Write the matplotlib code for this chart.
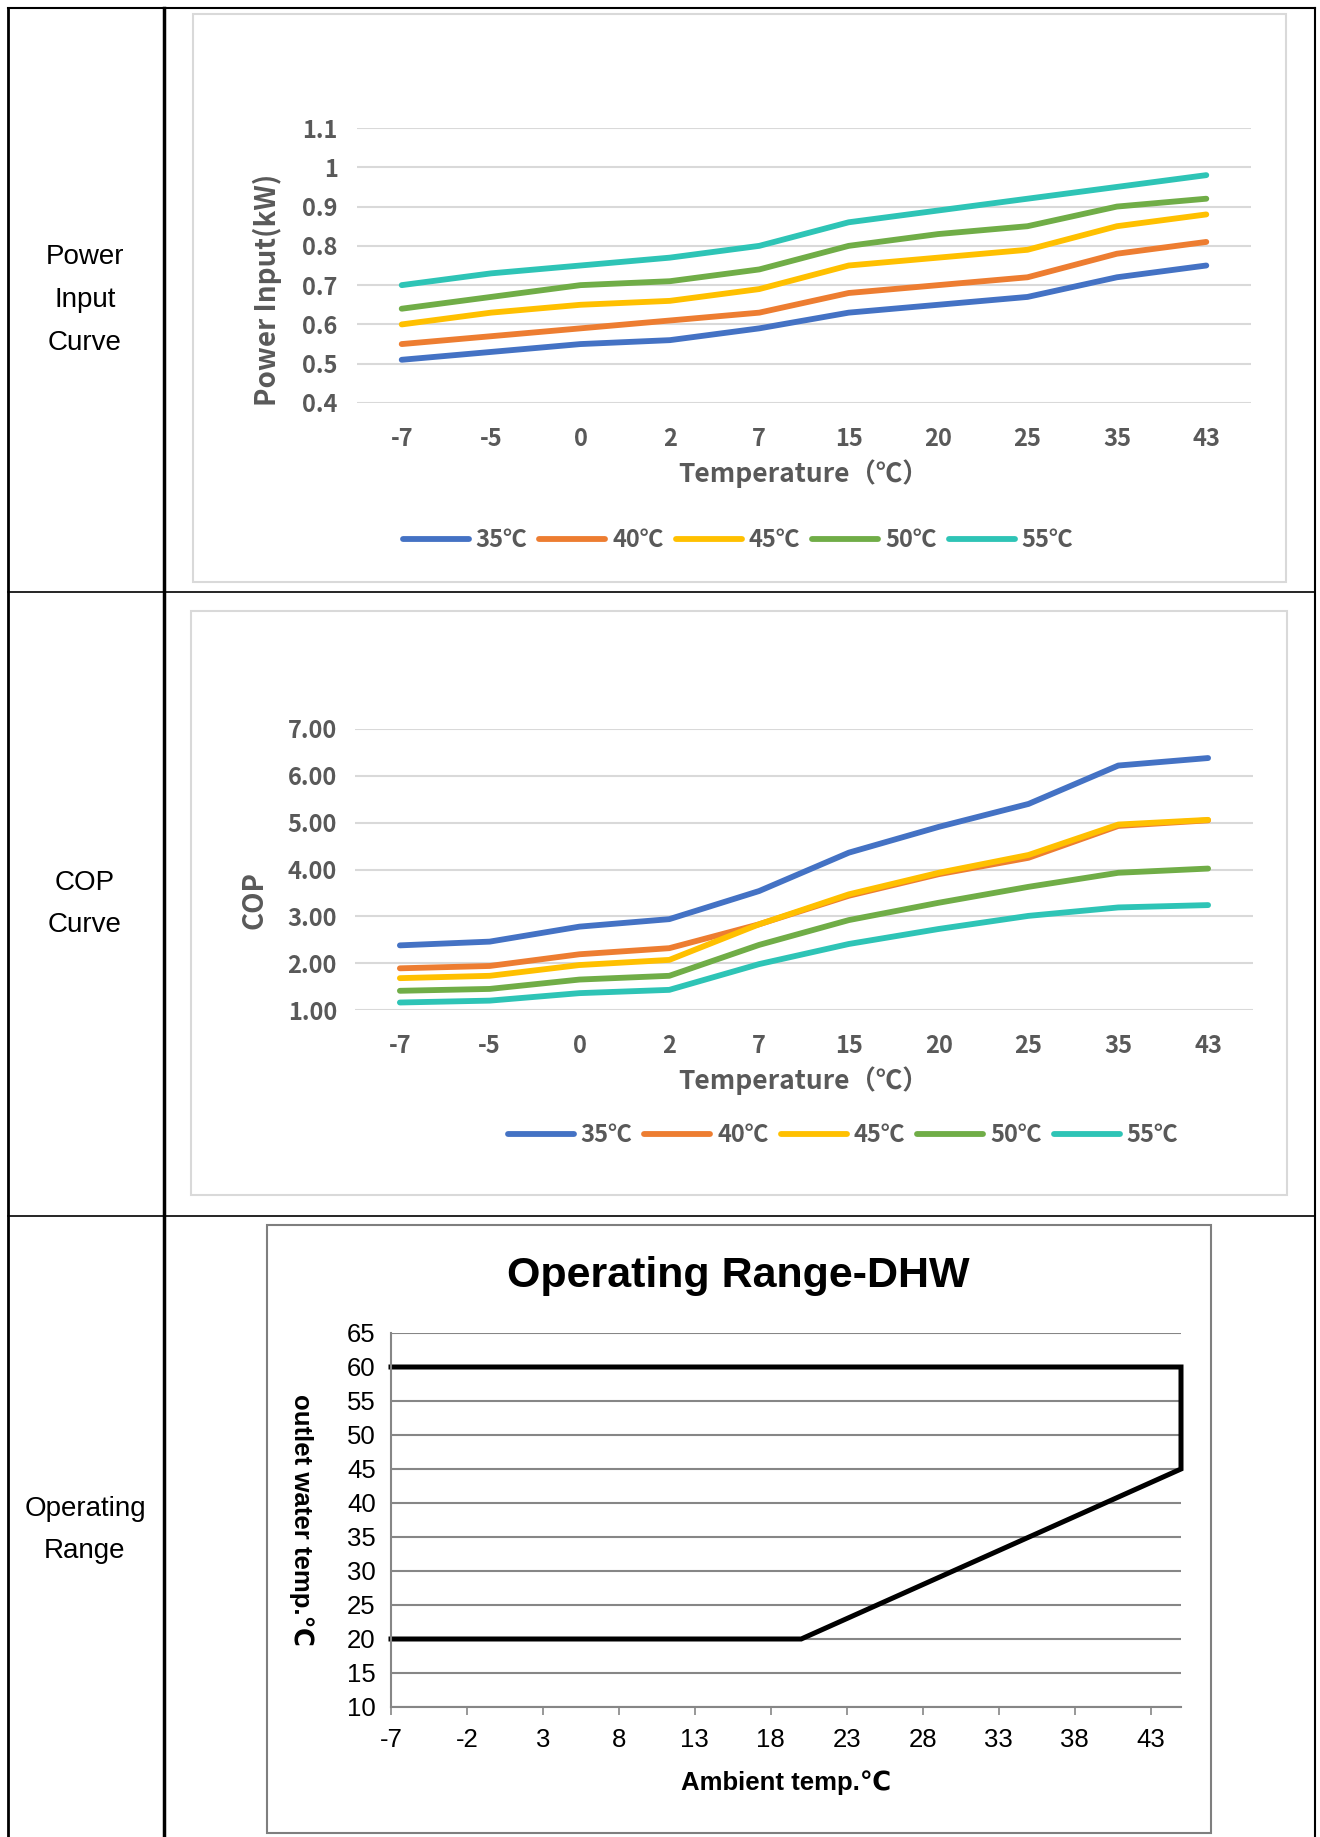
import numpy as np
import matplotlib.pyplot as plt
from matplotlib.patches import Rectangle

plt.rcParams['axes.unicode_minus'] = False

W, H = 1320, 1837

# ---- data ----
temps = ['-7', '-5', '0', '2', '7', '15', '20', '25', '35', '43']
series = ['35℃', '40℃', '45℃', '50℃', '55℃']
colors = ['#4472C4', '#ED7D31', '#FFC000', '#70AD47', '#2EC4B6']

power_35 = [0.51, 0.53, 0.55, 0.56, 0.59, 0.63, 0.65, 0.67, 0.72, 0.75]
power_40 = [0.55, 0.57, 0.59, 0.61, 0.63, 0.68, 0.70, 0.72, 0.78, 0.81]
power_45 = [0.60, 0.63, 0.65, 0.66, 0.69, 0.75, 0.77, 0.79, 0.85, 0.88]
power_50 = [0.64, 0.67, 0.70, 0.71, 0.74, 0.80, 0.83, 0.85, 0.90, 0.92]
power_55 = [0.70, 0.73, 0.75, 0.77, 0.80, 0.86, 0.89, 0.92, 0.95, 0.98]
power_ticks = [0.4, 0.5, 0.6, 0.7, 0.8, 0.9, 1.0, 1.1]

cop_35 = [2.38, 2.46, 2.78, 2.94, 3.54, 4.36, 4.91, 5.40, 6.22, 6.38]
cop_40 = [1.89, 1.94, 2.19, 2.32, 2.83, 3.44, 3.90, 4.25, 4.93, 5.05]
cop_45 = [1.68, 1.73, 1.96, 2.07, 2.83, 3.47, 3.93, 4.31, 4.96, 5.06]
cop_50 = [1.41, 1.45, 1.65, 1.73, 2.39, 2.92, 3.29, 3.63, 3.93, 4.02]
cop_55 = [1.16, 1.20, 1.36, 1.43, 1.98, 2.41, 2.73, 3.01, 3.19, 3.24]
cop_ticks = [1, 2, 3, 4, 5, 6, 7]

# operating envelope (ambient temp, outlet water temp)
range_x = [-7, 45, 45, 20, -7]
range_y = [60, 60, 45, 20, 20]
range_xticks = list(range(-7, 44, 5))
range_yticks = list(range(10, 66, 5))

row_names = ['Power\nInput\nCurve', 'COP\nCurve', 'Operating\nRange']

cjk = ['Noto Sans CJK SC', 'DejaVu Sans']
arial = ['Liberation Sans', 'DejaVu Sans']
grey_txt = '#595959'

fig = plt.figure(figsize=(W / 100, H / 100), dpi=100)
fig.patch.set_facecolor('white')


def place(x0, y0, x1, y1):
    # axes from pixel box (top-left origin)
    return fig.add_axes([x0 / W, 1 - y1 / H, (x1 - x0) / W, (y1 - y0) / H])


# background layer for the table grid and chart frames
bg = fig.add_axes([0, 0, 1, 1], zorder=-1)
bg.set_xlim(0, W)
bg.set_ylim(H, 0)
bg.axis('off')

bg.plot([8, 1315], [8, 8], color='k', lw=1.5)
bg.plot([8, 8], [8, H], color='k', lw=2)
bg.plot([1315, 1315], [8, H], color='k', lw=1.5)
bg.plot([164, 164], [8, H], color='k', lw=2.5)
for yy in [591.5, 1216]:
    bg.plot([8, 1315], [yy, yy], color='k', lw=1.2)

bg.add_patch(Rectangle((193, 14), 1093, 568, fill=False, ec='#d9d9d9', lw=1.5))
bg.add_patch(Rectangle((191, 611), 1096, 584, fill=False, ec='#d9d9d9', lw=1.5))
bg.add_patch(Rectangle((267, 1225), 944, 608, fill=False, ec='#7f7f7f', lw=1.5))

for name, yc in zip(row_names, [300, 904, 1530]):
    bg.text(85, yc, name, ha='center', va='center', fontsize=20,
            linespacing=1.85, family=arial)


def line_chart(ax, data, ticks, labels, ylabel, xpad, ypad, ylpos):
    x = np.arange(len(temps))
    for vals, lab, c in zip(data, series, colors):
        ax.plot(x, vals, color=c, lw=4.2, label=lab, solid_capstyle='round')
    ax.set_xlim(-0.5, len(temps) - 0.5)
    ax.set_ylim(ticks[0], ticks[-1])
    ax.set_yticks(ticks)
    ax.set_yticklabels(labels)
    ax.set_xticks(x)
    ax.set_xticklabels(temps)
    ax.grid(axis='y', color='#d9d9d9', lw=1.5)
    ax.set_axisbelow(True)
    for s in ax.spines.values():
        s.set_visible(False)
    ax.tick_params(axis='x', length=0, pad=xpad)
    ax.tick_params(axis='y', length=0, pad=ypad)
    for t in ax.get_xticklabels() + ax.get_yticklabels():
        t.set_family(cjk)
        t.set_fontsize(17)
        t.set_fontweight('bold')
        t.set_color(grey_txt)
    ax.set_xlabel('Temperature（℃）', family=cjk, fontsize=19, fontweight='bold',
                  color=grey_txt, labelpad=6)
    ax.set_ylabel(ylabel, family=cjk, fontsize=20, fontweight='bold',
                  color=grey_txt)
    ax.yaxis.set_label_coords(*ylpos)


def add_legend(ax, cx, cy):
    leg = ax.legend(loc='center', bbox_to_anchor=(cx / W, 1 - cy / H),
                    bbox_transform=fig.transFigure, ncol=5, frameon=False,
                    handlelength=2.8, handletextpad=0.3, columnspacing=0.5,
                    prop={'family': cjk, 'size': 17, 'weight': 'bold'})
    for t in leg.get_texts():
        t.set_color(grey_txt)


# ---- Power input curve ----
ax1 = place(357, 128, 1251, 403)
line_chart(ax1, [power_35, power_40, power_45, power_50, power_55],
           power_ticks, [f'{v:g}' for v in power_ticks],
           'Power Input(kW)', 17, 14, (-0.084, 0.41))
add_legend(ax1, 738, 540)

# ---- COP curve ----
ax2 = place(355, 729, 1253, 1010)
line_chart(ax2, [cop_35, cop_40, cop_45, cop_50, cop_55],
           cop_ticks, [f'{v:.2f}' for v in cop_ticks],
           'COP', 17, 13, (-0.096, 0.39))
add_legend(ax2, 843, 1135)

# ---- Operating range ----
ax3 = place(391, 1333, 1181, 1707)
ax3.plot(range_x, range_y, color='k', lw=3.6, clip_on=False,
         solid_joinstyle='miter')
ax3.set_xlim(-7, 45)
ax3.set_ylim(10, 65)
ax3.set_xticks(range_xticks)
ax3.set_yticks(range_yticks)
ax3.grid(axis='y', color='#868686', lw=1.5)
ax3.set_axisbelow(True)
ax3.spines['top'].set_visible(False)
ax3.spines['right'].set_visible(False)
ax3.spines['left'].set_color('#868686')
ax3.spines['bottom'].set_color('#868686')
ax3.spines['left'].set_linewidth(1.5)
ax3.spines['bottom'].set_linewidth(1.5)
ax3.tick_params(axis='x', length=6, width=1.2, color='#868686', pad=9)
ax3.tick_params(axis='y', length=0, pad=11)
for t in ax3.get_xticklabels() + ax3.get_yticklabels():
    t.set_family(arial)
    t.set_fontsize(18.5)
ax3.set_xlabel('Ambient temp.℃', family=arial, fontsize=18.5, fontweight='bold',
               labelpad=13)
ax3.set_ylabel('outlet water temp.℃', family=arial, fontsize=18.5,
               fontweight='bold', rotation=270, va='top', labelpad=24)
ax3.set_title('Operating Range-DHW', family=arial, fontsize=31,
              fontweight='bold', x=0.44, pad=33)

fig.savefig('out.png', dpi=100)
